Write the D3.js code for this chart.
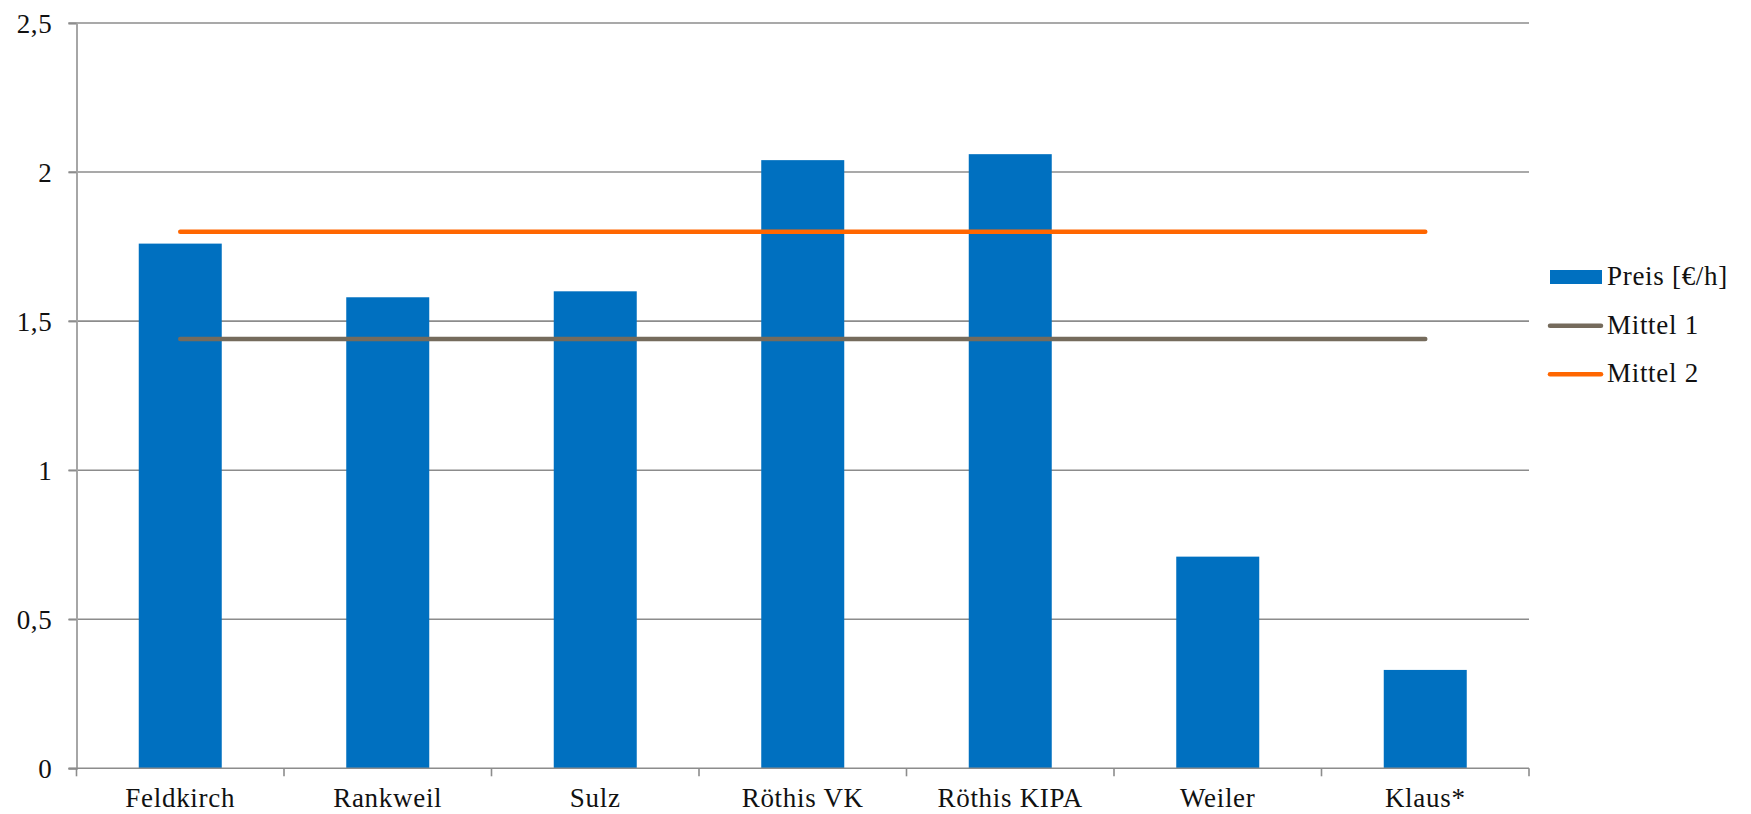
<!DOCTYPE html>
<html>
<head>
<meta charset="utf-8">
<script src="https://cdn.jsdelivr.net/npm/d3@7"></script>
<style>
  html, body { margin: 0; padding: 0; background: #ffffff; }
  svg { display: block; }
  text { font-family: "Palatino Linotype", "Book Antiqua", Palatino, "Liberation Serif", serif; fill: #111; letter-spacing: 0.7px; }
</style>
</head>
<body>
<svg id="chart" width="1751" height="814"></svg>
<script>
const categories = ["Feldkirch", "Rankweil", "Sulz", "Röthis VK", "Röthis KIPA", "Weiler", "Klaus*"];
const preis = [1.76, 1.58, 1.60, 2.04, 2.06, 0.71, 0.33];
const mittel1 = [1.44, 1.44, 1.44, 1.44, 1.44, 1.44, 1.44];
const mittel2 = [1.80, 1.80, 1.80, 1.80, 1.80, 1.80, 1.80];
const yTicks = [0, 0.5, 1, 1.5, 2, 2.5];
const legendLabels = ["Preis [€/h]", "Mittel 1", "Mittel 2"];

(function () {
const BLUE = "#0070C0", GREY = "#756B5C", ORANGE = "#FF6600";
const FONT = '"Palatino Linotype", "Book Antiqua", Palatino, "Liberation Serif", serif';
const FS = 27;
const svg = d3.select("#chart");
const pLeft = 76.5, pRight = 1529, pTop = 23, pBottom = 768.3;

const x = d3.scaleBand().domain(categories).range([pLeft, pRight]).padding(0);
const y = d3.scaleLinear().domain([0, 2.5]).range([pBottom, pTop]);
const fmt = d => String(d).replace(".", ",");

// gridlines
svg.append("g").selectAll("line").data(yTicks.filter(d => d > 0)).join("line")
  .attr("x1", pLeft - 8).attr("x2", pRight)
  .attr("y1", d => y(d)).attr("y2", d => y(d))
  .attr("stroke", "#8c8c8c").attr("stroke-width", 1.6);

// y axis
const yAxis = svg.append("g").attr("transform", `translate(${pLeft},0)`)
  .call(d3.axisLeft(y).tickValues(yTicks).tickFormat(fmt).tickSize(8).tickPadding(16));
yAxis.select(".domain").attr("stroke", "#a6a6a6").attr("stroke-width", 2);
yAxis.selectAll(".tick line").attr("stroke", "#8c8c8c").attr("stroke-width", 1.6);
yAxis.selectAll(".tick text").attr("font-size", FS).attr("fill", "#111")
  .style("font-family", FONT).attr("dy", "0.34em");

// bars
svg.append("g").selectAll("rect").data(preis).join("rect")
  .attr("x", (d, i) => x(categories[i]) + x.bandwidth() * 0.3)
  .attr("width", x.bandwidth() * 0.4)
  .attr("y", d => y(d))
  .attr("height", d => y(0) - y(d))
  .attr("fill", BLUE);

// x axis
const xAxis = svg.append("g").attr("transform", `translate(0,${pBottom})`)
  .call(d3.axisBottom(x).tickSize(0).tickPadding(0));
xAxis.select(".domain").remove();
xAxis.selectAll(".tick text").attr("font-size", FS).attr("fill", "#111")
  .style("font-family", FONT).attr("y", 38.5).attr("dy", 0);
svg.append("line").attr("x1", pLeft - 8).attr("x2", pRight)
  .attr("y1", pBottom).attr("y2", pBottom)
  .attr("stroke", "#8c8c8c").attr("stroke-width", 1.6);
const bounds = categories.map(c => x(c)).concat([pRight]);
svg.append("g").selectAll("line").data(bounds).join("line")
  .attr("x1", d => d).attr("x2", d => d)
  .attr("y1", pBottom).attr("y2", pBottom + 8)
  .attr("stroke", "#8c8c8c").attr("stroke-width", 1.6);

// mean lines
const line = d3.line()
  .x((d, i) => x(categories[i]) + x.bandwidth() / 2)
  .y(d => y(d));
[[mittel1, GREY], [mittel2, ORANGE]].forEach(([data, col]) => {
  svg.append("path").datum(data).attr("d", line)
    .attr("fill", "none").attr("stroke", col)
    .attr("stroke-width", 4.5).attr("stroke-linecap", "round");
});

// legend
const lg = svg.append("g");
const rowY = [277, 325.7, 374.3];
lg.append("rect").attr("x", 1550).attr("y", rowY[0] - 7).attr("width", 52).attr("height", 14).attr("fill", BLUE);
lg.append("line").attr("x1", 1550).attr("x2", 1601).attr("y1", rowY[1]).attr("y2", rowY[1])
  .attr("stroke", GREY).attr("stroke-width", 4.5).attr("stroke-linecap", "round");
lg.append("line").attr("x1", 1550).attr("x2", 1601).attr("y1", rowY[2]).attr("y2", rowY[2])
  .attr("stroke", ORANGE).attr("stroke-width", 4.5).attr("stroke-linecap", "round");
lg.selectAll("text").data(legendLabels).join("text")
  .attr("x", 1607).attr("y", (d, i) => rowY[i] + 8)
  .attr("font-size", FS).text(d => d);
})();
</script>
</body>
</html>
